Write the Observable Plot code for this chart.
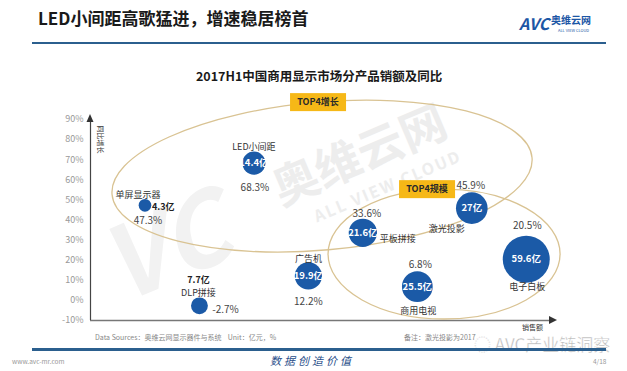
<!DOCTYPE html>
<html><head><meta charset="utf-8">
<script src="https://cdn.jsdelivr.net/npm/d3@7"></script>
<script src="https://cdn.jsdelivr.net/npm/@observablehq/plot@0.6"></script>
<style>
body{margin:0;background:#fff;}
#page{position:relative;width:627px;height:371px;overflow:hidden;font-family:"Microsoft YaHei","Noto Sans CJK SC","Noto Sans",sans-serif;background:#fff;}
.abs{position:absolute;white-space:nowrap;line-height:1;}
.wm{transform:rotate(-23deg);transform-origin:center center;}
#chart{position:absolute;left:0;top:84px;}
#chart svg{background:transparent;overflow:visible;}
#chart g[aria-label^="y-axis"] text{fill:#999;}
</style></head><body>
<div id="page">
  <div class="abs wm" style="left:266px;top:129px;font-size:46px;font-weight:bold;color:#ededed;">奥维云网</div>
  <div class="abs wm" style="left:308px;top:177px;font-size:16px;font-weight:bold;color:#ededed;letter-spacing:2px;">ALL VIEW CLOUD</div>
  <div class="abs wm" style="left:100px;top:190px;font-size:100px;font-weight:bold;font-style:italic;color:#f2f2f2;">VC</div>

  <div class="abs" style="left:38px;top:9px;font-size:17px;font-weight:bold;color:#1a1a1a;">LED小间距高歌猛进，增速稳居榜首</div>
  <div class="abs" style="left:519px;top:15px;font-size:16px;font-weight:bold;font-style:italic;color:#1c56a5;">AVC</div>
  <div class="abs" style="left:551px;top:15px;font-size:10px;font-weight:bold;color:#1c56a5;">奥维云网</div>
  <div class="abs" style="left:558px;top:28px;font-size:4px;color:#1c56a5;">ALL VIEW CLOUD</div>
  <div class="abs" style="left:32px;top:42px;width:574px;height:2px;background:#2b5f8e;"></div>

  <div class="abs" style="left:0;width:627px;text-align:center;top:70px;font-size:12.5px;font-weight:bold;color:#1a1a1a;">&nbsp;&nbsp;&nbsp;&nbsp;2017H1中国商用显示市场分产品销额及同比</div>

  <div id="chart"></div>

  <div class="abs" style="left:95px;top:334px;font-size:7px;color:#888;">Data Sources：奥维云网显示器件与系统&nbsp;&nbsp;&nbsp; Unit：亿元，%</div>
  <div class="abs" style="left:404px;top:334px;font-size:7px;color:#888;">备注：激光投影为2017</div>
  <div class="abs" style="left:474px;top:335px;font-size:17px;color:rgba(160,160,160,0.75);-webkit-text-stroke:0.4px #fff;">◌ AVC产业链洞察</div>
  <div class="abs" style="left:32px;top:348px;width:574px;height:3px;background:#2b5f8e;"></div>
  <div class="abs" style="left:12px;top:358px;font-size:6.5px;color:#999;">www.avc-mr.com</div>
  <div class="abs" style="left:270px;top:355px;font-size:11px;color:#2a4f8a;letter-spacing:3px;font-style:italic;">数据创造价值</div>
  <div class="abs" style="left:593px;top:358px;font-size:6.5px;color:#999;">4/18</div>
</div>
<script>
// ---- data ----
const products = ["单屏显示器","DLP拼接","LED小间距","广告机","平板拼接","商用电视","激光投影","电子白板"];
const sales = [4.3, 7.7, 14.4, 19.9, 21.6, 25.5, 27, 59.6];      // 亿元
const growth = [47.3, -2.7, 68.3, 12.2, 33.6, 6.8, 45.9, 20.5];  // %
const yTicks = [-10, 0, 10, 20, 30, 40, 50, 60, 70, 80, 90];
const groupNames = ["TOP4增长", "TOP4规模"];

// ---- layout (label offsets, ellipse geometry) ----
const labelLayout = {
  "单屏显示器": {name:[-7,-10], pct:[3,15], val:[7,2,"start"]},
  "DLP拼接":   {name:[-1,-13], pct:[26,4], val:[-1,-26,"middle"]},
  "LED小间距": {name:[0,-16], pct:[1,25]},
  "广告机":    {name:[0,-17], pct:[0,26]},
  "平板拼接":  {name:[17,6,"start"], pct:[4,-19]},
  "商用电视":  {name:[1,24], pct:[3,-22]},
  "激光投影":  {name:[-25,21], pct:[-1,-22]},
  "电子白板":  {name:[1,28], pct:[1,-33]}
};
const ellipseLayout = [
  {cx:3.26, cy:61.6, rx:3.87, ry:36.8, rot:-5, labelDx:-4},
  {cx:5.5, cy:22.8, rx:2.13, ry:32.3, rot:0, labelDx:-17}
];

const n = products.length;
const order = d3.sort(d3.range(n), i => sales[i]);
const data = products.map((p, i) => ({name:p, sales:sales[i], growth:growth[i], rank:order.indexOf(i)}));
const xDomain = [-1, n - 0.5];
const yDomain = [yTicks[0], yTicks[yTicks.length-1]];
const blue = "#1b5aa7";

function getScales(args){ return [...args].find(a => a && typeof a.x === "function" && typeof a.y === "function"); }

function ellipseMark(e){
  return function(){
    const s = getScales(arguments);
    const cx = s.x(e.cx), cy = s.y(e.cy);
    const rx = Math.abs(s.x(e.cx + e.rx) - cx), ry = Math.abs(s.y(e.cy + e.ry) - cy);
    const g = d3.create("svg:g");
    g.append("ellipse").attr("cx", cx).attr("cy", cy).attr("rx", rx).attr("ry", ry)
      .attr("transform", `rotate(${e.rot} ${cx} ${cy})`)
      .attr("fill", "none").attr("stroke", "#d9c393").attr("stroke-width", 1.3);
    return g.node();
  };
}
function groupLabelMark(e, label){
  return function(){
    const s = getScales(arguments);
    const cx = s.x(e.cx) + e.labelDx, top = s.y(e.cy + e.ry);
    const g = d3.create("svg:g");
    g.append("rect").attr("x", cx - 28).attr("y", top - 9).attr("width", 56).attr("height", 18).attr("fill", "#f6b817");
    g.append("text").attr("x", cx).attr("y", top).attr("dy", "0.35em").attr("text-anchor", "middle")
      .attr("font-size", 9).attr("font-weight", "bold").attr("fill", "#2a2a2a").text(label);
    return g.node();
  };
}
function arrowMark(){
  const s = getScales(arguments);
  const x0 = s.x(xDomain[0]), x1 = s.x(xDomain[1]), y0 = s.y(yDomain[0]), y1 = s.y(yDomain[1]);
  const g = d3.create("svg:g");
  g.append("path").attr("d", `M${x1+4},${y0}L${x1-4},${y0-4}L${x1-4},${y0+4}Z`).attr("fill", "#333");
  g.append("path").attr("d", `M${x0},${y1-5}L${x0-3.5},${y1+3}L${x0+3.5},${y1+3}Z`).attr("fill", "#333");
  return g.node();
}

const marks = [
  Plot.ruleY([yDomain[0]], {stroke:"#777", strokeWidth:1.6}),
  Plot.ruleX([xDomain[0]], {stroke:"#444", strokeWidth:1.2}),
  arrowMark,
  ...ellipseLayout.map(e => ellipseMark(e)),
  ...ellipseLayout.map((e, k) => groupLabelMark(e, groupNames[k])),
  Plot.dot(data, {x:"rank", y:"growth", r:"sales", fill:blue}),
  Plot.text(data.filter(d => !labelLayout[d.name].val), {x:"rank", y:"growth", text:d => d.sales + "亿", fill:"white", fontWeight:"bold", fontSize:9.5}),
  Plot.text(["销售额"], {x:xDomain[1], y:yDomain[0], text:d => d, dx:-21, dy:7, fontSize:7, fill:"#333"}),
  Plot.text(["同比增长"], {x:xDomain[0], y:yDomain[1], text:d => d, dx:10, dy:20, rotate:90, fontSize:7, fill:"#333"})
];
for (const d of data) {
  const L = labelLayout[d.name];
  marks.push(Plot.text([d], {x:"rank", y:"growth", text:"name", dx:L.name[0], dy:L.name[1], textAnchor:L.name[2] || "middle", fontSize:9, fill:"#333"}));
  marks.push(Plot.text([d], {x:"rank", y:"growth", text:v => v.growth + "%", dx:L.pct[0], dy:L.pct[1], fontSize:10, fill:"#444"}));
  if (L.val) marks.push(Plot.text([d], {x:"rank", y:"growth", text:v => v.sales + "亿", dx:L.val[0], dy:L.val[1], textAnchor:L.val[2], fontSize:9, fontWeight:"bold", fill:"#222"}));
}

const chart = Plot.plot({
  width: 627,
  height: 262,
  marginLeft: 90,
  marginRight: 74,
  marginTop: 35,
  marginBottom: 26,
  style: {fontFamily: '"Microsoft YaHei","Noto Sans CJK SC",sans-serif', fontSize: "9px", background: "transparent", overflow: "visible"},
  x: {domain: xDomain, axis: null},
  y: {domain: yDomain, ticks: yTicks, tickFormat: d => d + "%", tickSize: 0, tickPadding: 7, label: null},
  r: {type: "sqrt", domain: [0, d3.max(sales)], range: [0, 23.5]},
  marks
});
document.getElementById("chart").appendChild(chart);
</script>
</body></html>
